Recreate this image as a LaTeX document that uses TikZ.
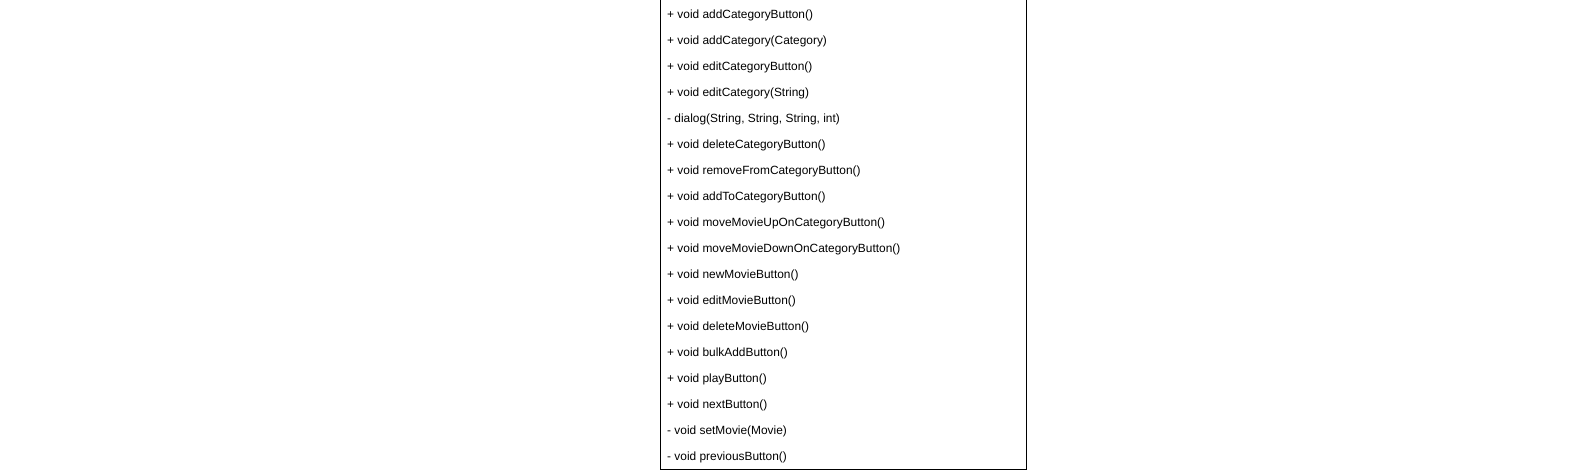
\documentclass[tikz,border=0pt]{standalone}
\usepackage{fontspec}
\setmainfont{Liberation Sans}
\usepackage{tikz}
\usetikzlibrary{positioning}

\begin{document}
\begin{tikzpicture}[x=1pt, y=1pt, member/.style={anchor=base west, inner sep=0pt, font=\fontsize{11.9}{14}\selectfont}]
        \useasboundingbox (0,0) rectangle (1591,-470);

        % Class box (top cut off)
        \draw[line width=1pt] (660,0) -- (660,-469.5) -- (1026,-469.5) -- (1026,0);

        % Operations
        \node[member] (op1) at (667,-18.5) {+ void addCategoryButton()};
        \node[member] (op2) at (667,-44.5) {+ void addCategory(Category)};
        \node[member] (op3) at (667,-70.5) {+ void editCategoryButton()};
        \node[member] (op4) at (667,-96.5) {+ void editCategory(String)};
        \node[member] (op5) at (667,-122.5) {- dialog(String, String, String, int)};
        \node[member] (op6) at (667,-148.5) {+ void deleteCategoryButton()};
        \node[member] (op7) at (667,-174.5) {+ void removeFromCategoryButton()};
        \node[member] (op8) at (667,-200.5) {+ void addToCategoryButton()};
        \node[member] (op9) at (667,-226.5) {+ void moveMovieUpOnCategoryButton()};
        \node[member] (op10) at (667,-252.5) {+ void moveMovieDownOnCategoryButton()};
        \node[member] (op11) at (667,-278.5) {+ void newMovieButton()};
        \node[member] (op12) at (667,-304.5) {+ void editMovieButton()};
        \node[member] (op13) at (667,-330.5) {+ void deleteMovieButton()};
        \node[member] (op14) at (667,-356.5) {+ void bulkAddButton()};
        \node[member] (op15) at (667,-382.5) {+ void playButton()};
        \node[member] (op16) at (667,-408.5) {+ void nextButton()};
        \node[member] (op17) at (667,-434.5) {- void setMovie(Movie)};
        \node[member] (op18) at (667,-460.5) {- void previousButton()};
    \end{tikzpicture}
\end{document}
